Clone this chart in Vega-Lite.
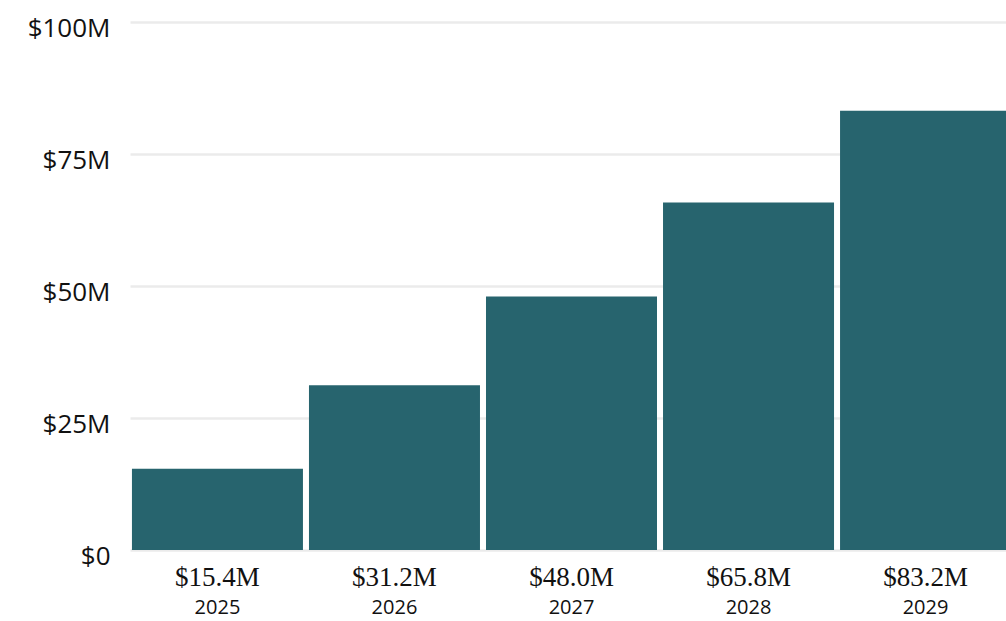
{
  "$schema": "https://vega.github.io/schema/vega-lite/v6.json",
  "autosize": {"type": "none"},
  "padding": {"left": 130, "top": 22, "right": 0, "bottom": 71},
  "width": 883,
  "height": 528,
  "background": "white",
  "config": {"view": {"stroke": null}},
  "data": {"values": [
    {"year": "2025", "value": 15.4, "label": "$15.4M"},
    {"year": "2026", "value": 31.2, "label": "$31.2M"},
    {"year": "2027", "value": 48.0, "label": "$48.0M"},
    {"year": "2028", "value": 65.8, "label": "$65.8M"},
    {"year": "2029", "value": 83.2, "label": "$83.2M"}
  ]},
  "encoding": {
    "x": {
      "field": "year", "type": "nominal",
      "scale": {"paddingInner": 0.034, "paddingOuter": 0.011},
      "axis": {
        "title": null, "domain": false, "ticks": false, "labelAngle": 0,
        "labelFont": "Open Sans", "labelFontSize": 20, "labelColor": "#111111",
        "labelPadding": 47, "labelBaseline": "top"
      }
    }
  },
  "layer": [
    {
      "mark": {"type": "bar", "color": "#27646E"},
      "encoding": {
        "y": {
          "field": "value", "type": "quantitative",
          "scale": {"domain": [0, 100]},
          "axis": {
            "title": null, "domain": false, "ticks": false,
            "values": [0, 25, 50, 75, 100],
            "labelExpr": "'$' + datum.value + (datum.value == 0 ? '' : 'M')",
            "labelFont": "Open Sans", "labelFontSize": 26, "labelColor": "#111111",
            "labelPadding": 20, "labelOffset": 6,
            "grid": true, "gridColor": "#ebebeb", "gridWidth": 2.5
          }
        }
      }
    },
    {
      "mark": {"type": "text", "font": "Liberation Serif", "fontSize": 27, "baseline": "middle", "dy": 28, "color": "#111111"},
      "encoding": {
        "y": {"datum": 0, "type": "quantitative"},
        "text": {"field": "label"}
      }
    }
  ]
}
